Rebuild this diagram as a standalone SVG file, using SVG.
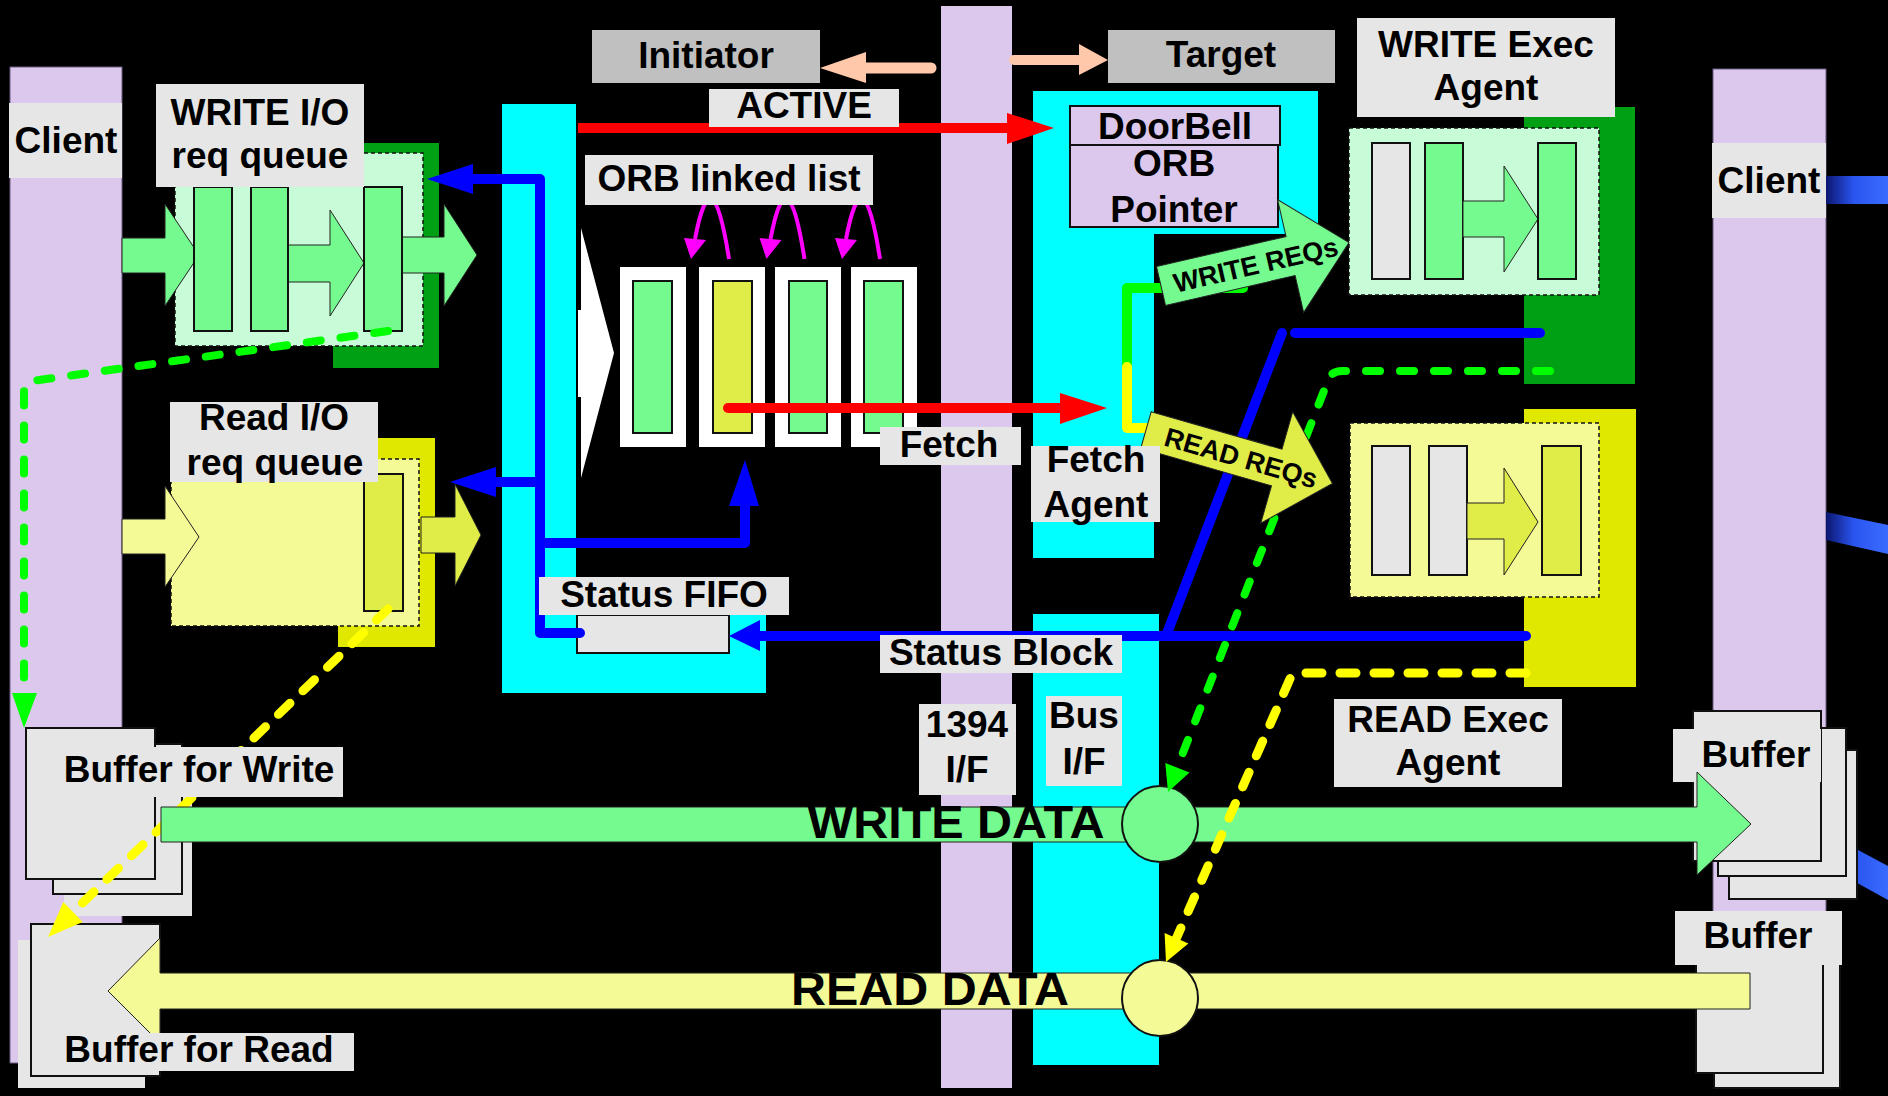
<svg xmlns="http://www.w3.org/2000/svg" width="1888" height="1096" viewBox="0 0 1888 1096">
<defs>
<style>
.t{font-family:"Liberation Sans",Arial,sans-serif;font-weight:bold;font-size:37px;fill:#000;text-anchor:middle}
.rq{font-size:27px}
.big{font-size:46px}
.lbl{fill:#e6e6e6}
.gl{fill:#c0c0c0}
.lav{fill:#dcc8ec}
.cy{fill:#00ffff}
.gbar{fill:#74fa8e;stroke:#111;stroke-width:2}
.ybar{fill:#e0ec48;stroke:#111;stroke-width:2}
.wbar{fill:#e6e6e6;stroke:#111;stroke-width:2}
.garr{fill:#74fa8e;stroke:#222;stroke-width:1}
.yarr{fill:#f4fa96;stroke:#222;stroke-width:1}
.yarr2{fill:#e0ec48;stroke:#222;stroke-width:1}
.dash{stroke:#111;stroke-width:1.5;stroke-dasharray:4 3}
.buf{fill:#e6e6e6;stroke:#111;stroke-width:2}
.blue{fill:none;stroke:#0000ff;stroke-width:10;stroke-linecap:round;stroke-linejoin:round}
.red{fill:none;stroke:#ff0000;stroke-width:10}
.mag{fill:none;stroke:#ff00ff;stroke-width:4}
.gd{fill:none;stroke:#00ff00;stroke-width:8;stroke-linecap:round;stroke-linejoin:round;stroke-dasharray:14 20}
.yd{fill:none;stroke:#ffff00;stroke-width:9;stroke-linecap:round;stroke-linejoin:round;stroke-dasharray:16 18}
</style>
<linearGradient id="bg1" x1="0" y1="0" x2="1" y2="0">
<stop offset="0" stop-color="#0c1670"/><stop offset="0.45" stop-color="#2a55f0"/><stop offset="1" stop-color="#3a6cff"/>
</linearGradient>
</defs>
<rect x="0" y="0" width="1888" height="1096" fill="#000"/>

<g id="columns">
<rect class="lav" x="10" y="67" width="112" height="996" stroke="#6a5a80" stroke-width="1"/>
<rect class="lav" x="941" y="6" width="71" height="1082"/>
<rect class="lav" x="1713" y="69" width="113" height="931" stroke="#6a5a80" stroke-width="1"/>
<polygon points="1826,176 1888,176 1888,204 1826,204" fill="url(#bg1)"/>
<polygon points="1826,512 1888,525 1888,554 1826,540" fill="url(#bg1)"/>
<polygon points="1830,835 1888,866 1888,900 1830,868" fill="url(#bg1)"/>
</g>

<g id="cyan-blocks">
<path class="cy" d="M502,104 H576 V580 H766 V693 H502 Z"/>
<path class="cy" d="M1033,91 H1318 V234 H1154 V558 H1033 Z"/>
<rect class="cy" x="1033" y="614" width="126" height="451"/>
</g>

<g id="client-left"><rect class="lbl" x="9" y="103" width="113" height="75"/><text class="t" x="66" y="153">Client</text></g>
<g id="client-right"><rect class="lbl" x="1712" y="143" width="114" height="75"/><text class="t" x="1769" y="193">Client</text></g>

<g id="initiator"><rect class="gl" x="592" y="30" width="228" height="53"/><text class="t" x="706" y="68">Initiator</text></g>
<g id="target"><rect class="gl" x="1108" y="30" width="227" height="53"/><text class="t" x="1221" y="67">Target</text></g>

<g id="write-queue">
<rect x="333" y="143" width="106" height="225" fill="#00a014"/>
<rect x="175" y="153" width="248" height="193" fill="#c8fcd8" class="dash"/>
<polygon class="garr" points="122,238 165,238 165,204 199,255 165,306 165,273 122,273"/>
<polygon class="garr" points="288,245 330,245 330,210 364,263 330,316 330,282 288,282"/>
<polygon class="garr" points="402,237 444,237 444,204 477,255 444,306 444,273 402,273"/>
<rect class="gbar" x="194" y="187" width="38" height="144"/>
<rect class="gbar" x="251" y="187" width="37" height="144"/>
<rect class="gbar" x="364" y="187" width="38" height="144"/>
<rect class="lbl" x="156" y="84" width="208" height="103"/>
<text class="t" x="260" y="125">WRITE I/O</text>
<text class="t" x="260" y="168">req queue</text>
</g>

<g id="read-queue">
<rect x="338" y="438" width="97" height="209" fill="#e0e800"/>
<rect x="171" y="459" width="248" height="167" fill="#f4fa96" class="dash"/>
<polygon class="yarr" points="122,519 165,519 165,486 199,537 165,587 165,554 122,554"/>
<rect class="ybar" x="364" y="474" width="39" height="137"/>
<polygon class="yarr2" points="421,517 455,517 455,484 481,535 455,586 455,553 421,553"/>
<rect class="lbl" x="170" y="402" width="208" height="80"/>
<text class="t" x="274" y="430">Read I/O</text>
<text class="t" x="275" y="475">req queue</text>
</g>

<g id="orb-list">
<polygon points="578,310 581,310 581,228 614,353 581,478 581,397 578,397" fill="#fff"/>
<rect x="620" y="267" width="66" height="180" fill="#fff"/>
<rect x="699" y="267" width="66" height="180" fill="#fff"/>
<rect x="775" y="267" width="66" height="180" fill="#fff"/>
<rect x="851" y="267" width="66" height="180" fill="#fff"/>
<rect class="gbar" x="633" y="281" width="39" height="152"/>
<rect class="ybar" x="713" y="281" width="39" height="152"/>
<rect class="gbar" x="789" y="281" width="38" height="152"/>
<rect class="gbar" x="864" y="281" width="39" height="152"/>
<path class="mag" d="M729,259 Q712,150 695,239"/>
<polygon points="691,259 684,238 706,240" fill="#ff00ff"/>
<path class="mag" d="M804.5,259 Q787.5,150 770.5,239"/>
<polygon points="766.5,259 759.5,238 781.5,240" fill="#ff00ff"/>
<path class="mag" d="M880,259 Q863,150 846,239"/>
<polygon points="842,259 835,238 857,240" fill="#ff00ff"/>
<rect class="lbl" x="585" y="155" width="288" height="50"/>
<text class="t" x="729" y="191">ORB linked list</text>
</g>

<g id="doorbell"><rect class="lav" x="1070" y="106" width="210" height="39" stroke="#111" stroke-width="2"/><text class="t" x="1175" y="139">DoorBell</text></g>
<g id="orb-pointer"><rect class="lav" x="1070" y="145" width="208" height="82" stroke="#111" stroke-width="2"/><text class="t" x="1174" y="176">ORB</text><text class="t" x="1174" y="222">Pointer</text></g>

<g id="write-exec">
<rect x="1524" y="107" width="111" height="277" fill="#00a014"/>
<rect x="1349" y="128" width="250" height="167" fill="#c8fcd8" class="dash"/>
<rect class="wbar" x="1372" y="143" width="38" height="136"/>
<rect class="gbar" x="1425" y="143" width="38" height="136"/>
<polygon class="garr" points="1463,201 1504,201 1504,166 1538,219 1504,272 1504,237 1463,237"/>
<rect class="gbar" x="1538" y="143" width="38" height="136"/>
<rect class="lbl" x="1357" y="18" width="258" height="99"/>
<text class="t" x="1486" y="57">WRITE Exec</text>
<text class="t" x="1486" y="100">Agent</text>
</g>

<g id="read-exec">
<rect x="1524" y="409" width="112" height="278" fill="#e0e800"/>
<rect x="1350" y="423" width="249" height="174" fill="#f4fa96" class="dash"/>
<rect class="wbar" x="1372" y="446" width="38" height="129"/>
<rect class="wbar" x="1429" y="446" width="38" height="129"/>
<polygon class="yarr2" points="1467,503 1504,503 1504,468 1538,522 1504,575 1504,539 1467,539"/>
<rect class="ybar" x="1542" y="446" width="39" height="129"/>
<rect class="lbl" x="1334" y="699" width="228" height="88"/>
<text class="t" x="1448" y="732">READ Exec</text>
<text class="t" x="1448" y="775">Agent</text>
</g>

<g id="status-fifo-box"><rect class="buf" x="577" y="615" width="152" height="38"/></g>

<g id="buffer-write">
<rect x="64" y="760" width="128" height="156" fill="#e6e6e6"/>
<rect class="buf" x="53" y="744" width="129" height="150"/>
<rect class="buf" x="26" y="728" width="129" height="151"/>
</g>
<g id="buffer-read">
<rect x="18" y="940" width="127" height="148" fill="#e6e6e6"/>
<rect class="buf" x="31" y="924" width="129" height="152"/>
</g>
<g id="buffer-right-1">
<rect class="buf" x="1729" y="750" width="128" height="149"/>
<rect class="buf" x="1718" y="728" width="128" height="148"/>
<rect class="buf" x="1693" y="711" width="128" height="150"/>
<rect class="lbl" x="1673" y="729" width="148" height="53"/>
<text class="t" x="1756" y="767">Buffer</text>
</g>
<g id="buffer-right-2">
<rect class="buf" x="1714" y="940" width="126" height="148"/>
<rect class="buf" x="1696" y="925" width="127" height="148"/>
<rect class="lbl" x="1675" y="911" width="167" height="54"/>
<text class="t" x="1758" y="948">Buffer</text>
</g>

<g id="connectors">
<path class="gd" d="M388,331 L32,381 Q24,382 24,392 L24,693"/>
<polygon points="24,728 12,693 37,693" fill="#00ff00"/>
<path class="yd" d="M388,609 L73,912"/>
<polygon points="48,937 82.7,922.1 63.3,901.9" fill="#ffff00"/>
<polygon class="garr" points="161,807 1697,807 1697,772 1751,824 1697,875 1697,842 161,842"/>
<polygon class="yarr" points="1750,973 160,973 160,938 108,991 160,1043 160,1009 1750,1009"/>
<path class="blue" d="M470,179 L540,179 L540,633 L580,633"/>
<polygon points="427,179 473,164 473,194" fill="#0000ff"/>
<path class="blue" d="M540,482 L493,482"/>
<polygon points="450,482 496,467 496,497" fill="#0000ff"/>
<path class="blue" d="M540,543 L745,543 L745,503"/>
<polygon points="745,460 729,506 759,506" fill="#0000ff"/>
<path class="blue" d="M1526,636 L758,636"/>
<polygon points="729,636 760,620 760,651" fill="#0000ff"/>
<path class="blue" d="M1166,636 L1282,333"/>
<path class="blue" d="M1295,333 L1540,333"/>
<path class="red" d="M578,128 L1010,128"/>
<polygon points="1054,128 1007,113 1007,144" fill="#ff0000"/>
<path class="red" stroke-linecap="round" d="M728,408 L1062,408"/>
<polygon points="1107,408 1060,393 1060,424" fill="#ff0000"/>
<path d="M931,68 L866,68" stroke="#ffc8aa" stroke-width="11" stroke-linecap="round"/>
<polygon points="820,68 866,52 866,83" fill="#ffc8aa"/>
<path d="M1014,60 L1081,60" stroke="#ffc8aa" stroke-width="10" stroke-linecap="round"/>
<polygon points="1108,60 1079,44 1079,75" fill="#ffc8aa"/>
<path d="M1243,288 L1127,288 L1127,367" fill="none" stroke="#00ff00" stroke-width="10" stroke-linecap="round" stroke-linejoin="round"/>
<path d="M1127,367 L1127,428 L1148,428" fill="none" stroke="#ffff00" stroke-width="10" stroke-linecap="round" stroke-linejoin="round"/>
<circle cx="1160" cy="824" r="38" fill="#74fa8e" stroke="#111" stroke-width="2"/>
<circle cx="1160" cy="998" r="38" fill="#f4fa96" stroke="#111" stroke-width="2"/>
<path class="gd" d="M1550,371 L1342,371 Q1330,371 1327,383 L1177,768"/>
<polygon points="1168,792 1189.5,772.5 1165.3,763.1" fill="#00ff00"/>
<path class="yd" d="M1526,673 L1300,673 Q1292,673 1289,681 L1176.5,938"/>
<polygon points="1166,962 1188.4,943.4 1164.6,933" fill="#ffff00"/>
</g>

<g id="write-reqs" transform="translate(1161,286) rotate(-13)">
<polygon class="garr" points="0,-20 133,-20 133,-58 193,0 133,58 133,20 0,20"/>
<text class="t rq" x="97" y="10">WRITE REQs</text>
</g>
<g id="read-reqs" transform="translate(1146,430) rotate(16)">
<polygon class="yarr2" points="0,-19 136,-19 136,-58 194,0 136,58 136,19 0,19"/>
<text class="t rq" x="99" y="10">READ REQs</text>
</g>

<g id="labels">
<g id="active"><rect class="lbl" x="709" y="89" width="190" height="38"/><text class="t" x="804" y="118">ACTIVE</text></g>
<g id="fetch"><rect class="lbl" x="880" y="427" width="141" height="38"/><text class="t" x="949" y="457">Fetch</text></g>
<g id="fetch-agent"><rect class="lbl" x="1031" y="446" width="129" height="76"/><text class="t" x="1096" y="472">Fetch</text><text class="t" x="1096" y="517">Agent</text></g>
<g id="status-fifo"><rect class="lbl" x="539" y="577" width="250" height="38"/><text class="t" x="664" y="607">Status FIFO</text></g>
<g id="status-block"><rect class="lbl" x="880" y="635" width="242" height="38"/><text class="t" x="1001" y="665">Status Block</text></g>
<g id="if-1394"><rect class="lbl" x="919" y="704" width="97" height="91"/><text class="t" x="967" y="737">1394</text><text class="t" x="967" y="782">I/F</text></g>
<g id="bus-if"><rect class="lbl" x="1046" y="696" width="76" height="90"/><text class="t" x="1084" y="728">Bus</text><text class="t" x="1084" y="774">I/F</text></g>
<g id="buffer-write-label"><rect class="lbl" x="56" y="747" width="287" height="50"/><text class="t" x="199" y="782">Buffer for Write</text></g>
<g id="buffer-read-label"><rect class="lbl" x="60" y="1033" width="294" height="38"/><text class="t" x="199" y="1062">Buffer for Read</text></g>
<text class="t big" x="956" y="838" textLength="297" lengthAdjust="spacingAndGlyphs">WRITE DATA</text>
<text class="t big" x="930" y="1005" textLength="278" lengthAdjust="spacingAndGlyphs">READ DATA</text>
</g>
</svg>
